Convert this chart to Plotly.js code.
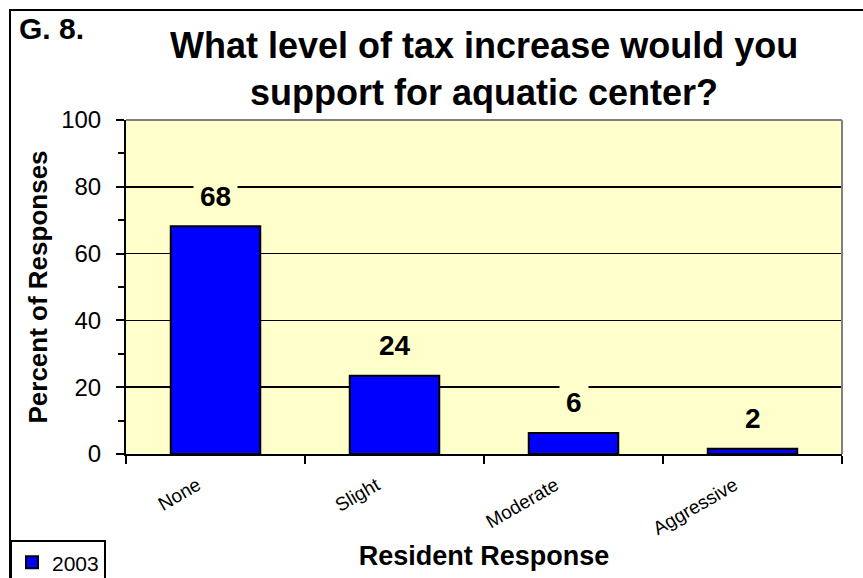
<!DOCTYPE html>
<html>
<head>
<meta charset="utf-8">
<script src="https://cdn.plot.ly/plotly-3.0.1.min.js"></script>
<style>html,body{margin:0;padding:0;background:#fff;}#chart{width:863px;height:578px;}</style>
</head>
<body>
<div id="chart"></div>
<script>
const categories = ['None', 'Slight', 'Moderate', 'Aggressive'];
const percent2003 = [68.2, 23.4, 6.3, 1.6];
const labels2003 = ['68', '24', '6', '2'];
const seriesName = '2003';
const yTicks = [0, 20, 40, 60, 80, 100];

const FONT = 'Liberation Sans, Arial, sans-serif';

const trace = {
  type: 'bar',
  x: categories,
  y: percent2003,
  name: seriesName,
  marker: {color: '#0000FF', line: {color: '#000000', width: 2}},
  showlegend: true,
  hoverinfo: 'x+y'
};

const labelAnnotations = categories.map((c, i) => ({
  x: c, y: percent2003[i], xref: 'x', yref: 'y',
  text: '<b>' + labels2003[i] + '</b>',
  showarrow: false, yshift: 30,
  font: {family: FONT, size: 28, color: '#000'},
  bgcolor: '#FFFFCC', borderpad: 6
}));

const layout = {
  width: 863, height: 578,
  margin: {l: 126, r: 21, t: 120, b: 124, autoexpand: false},
  paper_bgcolor: '#FFFFFF',
  plot_bgcolor: '#FFFFCC',
  font: {family: FONT, color: '#000'},
  bargap: 0.5,
  xaxis: {
    type: 'category',
    range: [-0.5, 3.5],
    tickson: 'boundaries',
    ticks: 'outside', ticklen: 8, tickwidth: 2, tickcolor: '#000',
    showline: true, linecolor: '#000', linewidth: 2,
    showgrid: false, zeroline: false,
    tickangle: -30,
    tickfont: {family: FONT, size: 19, color: '#000'},
    ticklabelshift: -18, ticklabelstandoff: 11,
    automargin: false,
    title: {text: '<b>Resident Response</b>', font: {family: FONT, size: 27, color: '#000'}, standoff: 8}
  },
  yaxis: {
    range: [0, 100],
    tickvals: yTicks,
    ticks: 'outside', ticklen: 8, tickwidth: 2, tickcolor: '#000',
    minor: {dtick: 10, ticks: 'outside', ticklen: 6, tickwidth: 2, tickcolor: '#000', showgrid: false},
    showline: true, linecolor: '#000', linewidth: 2,
    showgrid: true, gridcolor: '#000', gridwidth: 1.5,
    zeroline: false,
    automargin: false,
    tickfont: {family: FONT, size: 24, color: '#000'},
    ticklabelstandoff: 10,
    title: {text: '<b>Percent of Responses</b>', font: {family: FONT, size: 26, color: '#000'}, standoff: 6}
  },
  legend: {
    x: -0.162, xanchor: 'left', y: -0.258, yanchor: 'top',
    bordercolor: '#000', borderwidth: 2, bgcolor: '#FFFFFF',
    font: {family: FONT, size: 21, color: '#000'},
    itemwidth: 30, tracegroupgap: 0
  },
  shapes: [
    {type: 'line', xref: 'paper', yref: 'paper', x0: 0, x1: 1, y0: 1, y1: 1, line: {color: '#808080', width: 2}, layer: 'above'},
    {type: 'line', xref: 'paper', yref: 'paper', x0: 1, x1: 1, y0: 0, y1: 1, line: {color: '#808080', width: 2}, layer: 'above'},
    {type: 'rect', xref: 'paper', yref: 'paper', x0: -0.162, x1: 1.2, y0: -0.6, y1: 1.329, line: {color: '#000', width: 2}, fillcolor: 'rgba(0,0,0,0)', layer: 'above'}
  ],
  annotations: [
    {xref: 'paper', yref: 'paper', x: -0.152, y: 1.33, xanchor: 'left', yanchor: 'top', showarrow: false,
     text: '<b>G. 8.</b>', font: {family: FONT, size: 30, color: '#000'}},
    {xref: 'paper', yref: 'paper', x: 0.5, y: 1.153, xanchor: 'center', yanchor: 'middle', showarrow: false,
     text: '<b>What level of tax increase would you<br>support for aquatic center?</b>',
     font: {family: FONT, size: 36, color: '#000'}}
  ].concat(labelAnnotations)
};

Plotly.newPlot('chart', [trace], layout, {displayModeBar: false, staticPlot: true});
</script>
</body>
</html>
